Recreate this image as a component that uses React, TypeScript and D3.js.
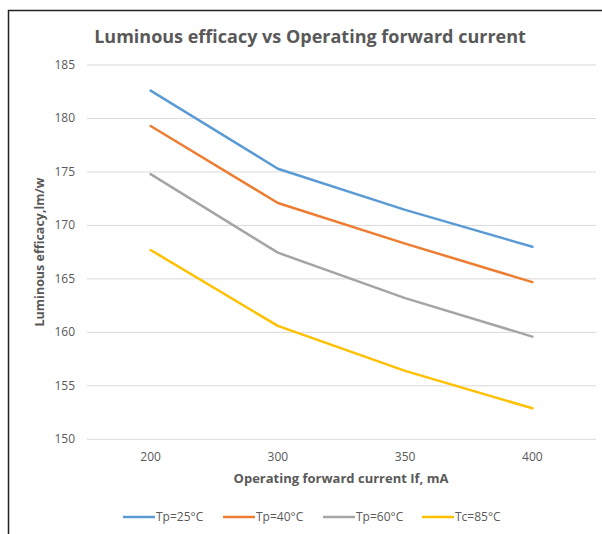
import React from "react";
import * as d3 from "d3";

const categories = ["200", "300", "350", "400"];
const seriesNames = ["Tp=25°C", "Tp=40°C", "Tp=60°C", "Tc=85°C"];
const tp25 = [182.6, 175.3, 171.45, 168.0];
const tp40 = [179.3, 172.1, 168.3, 164.7];
const tp60 = [174.8, 167.45, 163.2, 159.6];
const tc85 = [167.7, 160.6, 156.4, 152.9];
const yTicks = [150, 155, 160, 165, 170, 175, 180, 185];
const colors = ["#5B9BD5", "#ED7D31", "#A5A5A5", "#FFC000"];

const W = 602;
const H = 534;
const FONT = "'Open Sans', 'Noto Sans', sans-serif";

export default function App() {
  const seriesValues = [tp25, tp40, tp60, tc85];
  const x = d3.scaleBand<string>().domain(categories).range([87, 596]);
  const y = d3.scaleLinear().domain([150, 185]).range([439.3, 65]);
  const line = d3
    .line<number>()
    .x((_, i) => (x(categories[i]) as number) + x.bandwidth() / 2)
    .y((d) => y(d));

  const legendX = [123, 223, 323, 422];

  return (
    <svg
      width={W}
      height={H}
      style={{ position: "absolute", left: 0, top: 0, background: "#fff" }}
      fontFamily={FONT}
    >
      <rect x={0} y={0} width={W} height={H} fill="#fff" />
      <line x1={8.5} y1={10} x2={8.5} y2={H} stroke="#222" strokeWidth={1.5} />
      <line x1={8} y1={10.5} x2={W} y2={10.5} stroke="#222" strokeWidth={1.5} />

      <text x={310} y={43} textAnchor="middle" fontSize={18} fontWeight="bold" fill="#595959">
        Luminous efficacy vs Operating forward current
      </text>

      {yTicks.map((t) => (
        <g key={t}>
          <line x1={87} x2={596} y1={y(t)} y2={y(t)} stroke="#D9D9D9" strokeWidth={1} />
          <text x={75} y={y(t) + 4} textAnchor="end" fontSize={12} fill="#595959">
            {t}
          </text>
        </g>
      ))}

      {categories.map((c) => (
        <text
          key={c}
          x={(x(c) as number) + x.bandwidth() / 2}
          y={461}
          textAnchor="middle"
          fontSize={12}
          fill="#595959"
        >
          {c}
        </text>
      ))}

      <text x={341} y={483} textAnchor="middle" fontSize={13} fontWeight="bold" fill="#595959">
        Operating forward current If, mA
      </text>
      <text
        transform={`translate(44,252) rotate(-90)`}
        textAnchor="middle"
        fontSize={12.5}
        fontWeight="bold"
        fill="#595959"
      >
        Luminous efficacy,lm/w
      </text>

      {seriesValues.map((vals, i) => (
        <path
          key={seriesNames[i]}
          d={line(vals) || ""}
          fill="none"
          stroke={colors[i]}
          strokeWidth={2.5}
          strokeLinejoin="round"
          strokeLinecap="round"
        />
      ))}

      {seriesNames.map((n, i) => (
        <g key={n}>
          <line
            x1={legendX[i]}
            x2={legendX[i] + 32}
            y1={517}
            y2={517}
            stroke={colors[i]}
            strokeWidth={2.5}
          />
          <text x={legendX[i] + 33} y={521} fontSize={12} fill="#595959">
            {n}
          </text>
        </g>
      ))}
    </svg>
  );
}
